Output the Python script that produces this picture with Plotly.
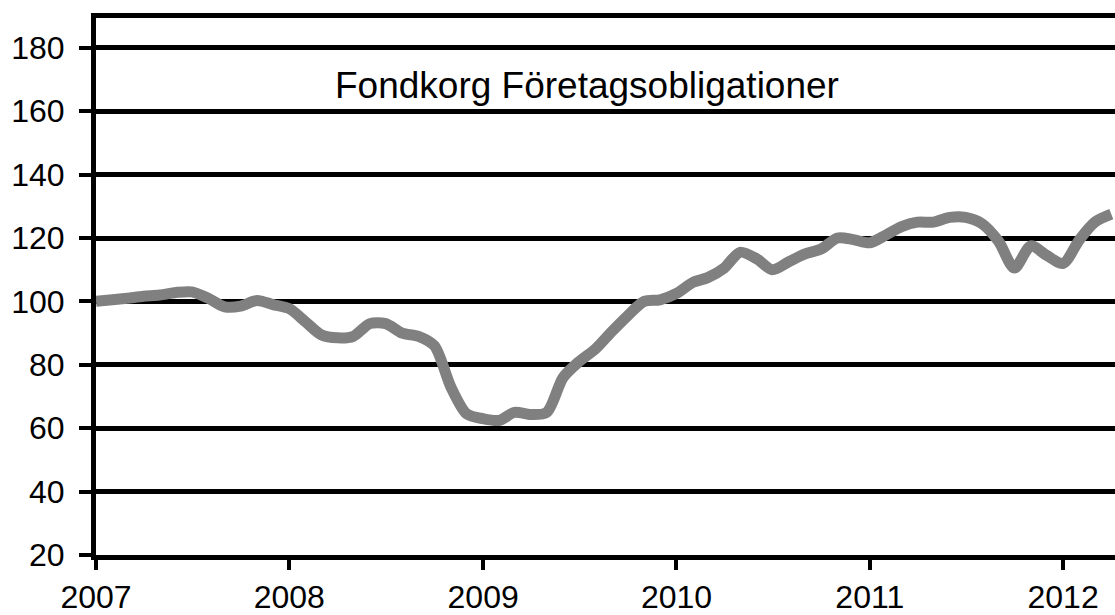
import pandas as pd
import plotly.graph_objects as go

# Monthly index values, Jan 2007 .. Apr 2012
values = [
    100.0, 100.5, 101.0, 101.6, 102.0, 102.8, 103.0, 101.0, 98.3, 98.5, 100.3, 99.0,   # 2007
    97.7, 93.5, 89.5, 88.5, 89.0, 93.0, 93.0, 90.0, 89.0, 86.0, 73.0, 64.5,          # 2008
    63.0, 62.5, 65.0, 64.3, 65.0, 76.0, 81.0, 85.0, 90.5, 95.5, 100.0, 100.5,        # 2009
    102.5, 106.0, 107.5, 110.5, 115.5, 113.5, 110.0, 112.5, 115.0, 116.5, 120.0, 119.5,  # 2010
    118.5, 121.0, 123.5, 125.0, 125.0, 126.5, 126.5, 124.5, 119.0, 110.5, 117.5, 114.5,  # 2011
    112.0, 119.5, 125.0, 127.5,                                                      # 2012
]
dates = pd.date_range(start="2007-01-01", periods=len(values), freq="MS")

tick_years = ["2007", "2008", "2009", "2010", "2011", "2012"]
y_ticks = [20, 40, 60, 80, 100, 120, 140, 160, 180]
title_text = "Fondkorg Företagsobligationer"

fig = go.Figure()
fig.add_trace(go.Scatter(
    x=dates, y=values, mode="lines",
    line=dict(color="#808080", width=11, shape="spline", smoothing=0.8),
    showlegend=False, hoverinfo="skip",
))

fig.add_annotation(
    text=title_text, xref="paper", yref="y", x=0.482, y=168,
    showarrow=False, font=dict(family="Liberation Sans, Arial", size=37, color="black"),
)

fig.update_layout(
    width=1115, height=615,
    margin=dict(l=96, r=0, t=18, b=60),
    paper_bgcolor="white", plot_bgcolor="white",
    font=dict(family="Liberation Sans, Arial", size=32, color="black"),
    xaxis=dict(
        type="date",
        range=["2007-01-01", "2012-04-08"],
        tickvals=[f"{y}-01-01" for y in tick_years],
        ticktext=tick_years,
        showgrid=False, zeroline=False,
        showline=True, linecolor="black", linewidth=5, mirror=True,
        ticks="outside", ticklen=10, tickwidth=4, tickcolor="black",
    ),
    yaxis=dict(
        range=[20, 189.4],
        tickvals=y_ticks,
        showgrid=True, gridcolor="black", gridwidth=4.5, zeroline=False,
        showline=True, linecolor="black", linewidth=5,
        ticks="outside", ticklen=12, tickwidth=4, tickcolor="black",
        ticklabelstandoff=8,
    ),
)

fig.write_html(
    "out.html",
    config={"displayModeBar": False},
    post_script="document.body.style.margin='0';document.body.style.overflow='hidden';",
)
